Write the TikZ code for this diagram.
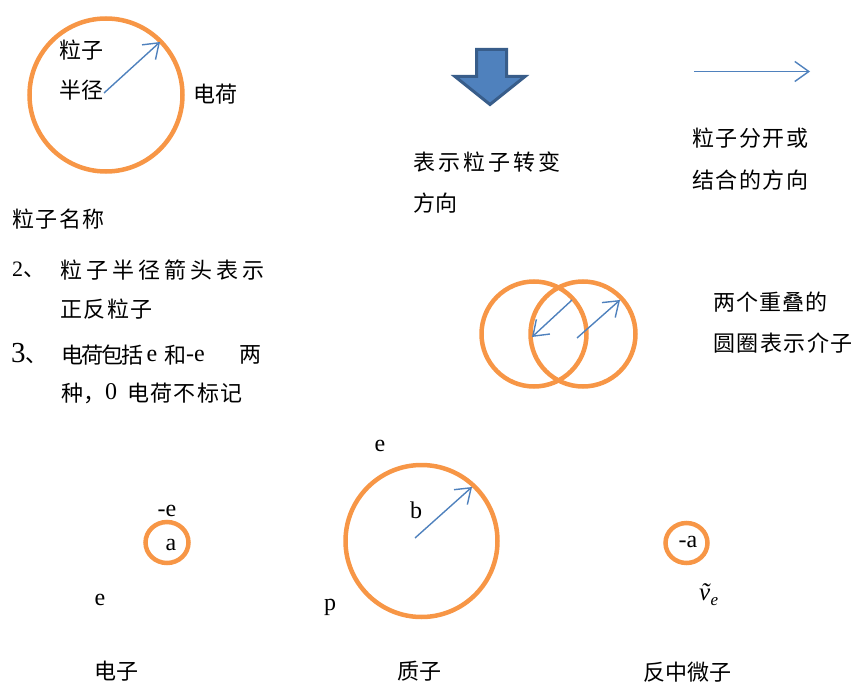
\documentclass[tikz,border=0pt]{standalone}
\usepackage{fontspec}
\setmainfont{Liberation Serif}
\newfontfamily\cjk{Noto Sans CJK SC}
\usetikzlibrary{arrows.meta}
\definecolor{porange}{HTML}{F79646}
\definecolor{pblue}{HTML}{4F81BD}
\definecolor{pdark}{HTML}{385D8A}
\newcommand\spc[2]{\def\gapamt{#1}\spcloop#2\relax}
\def\spcloop#1{\ifx#1\relax\else#1\expandafter\spcnext\fi}
\def\spcnext#1{\ifx#1\relax\else\hspace{\gapamt}#1\expandafter\spcnext\fi}
\begin{document}
\begin{tikzpicture}[x=1pt,y=-1pt,
  ring/.style={draw=porange,line width=4.5pt},
  radarrow/.style={draw=pblue,line width=1.4pt,-{Straight Barb[length=14pt,width=20pt,line width=1.4pt]}},
  zh/.style={anchor=west,inner sep=0pt,font=\cjk\fontsize{22}{26}\selectfont},
  lat/.style={inner sep=0pt,font=\fontsize{24}{28}\selectfont}]
\useasboundingbox (0,0) rectangle (857,682);

% legend circle
\coordinate (c1) at (106,95);
\coordinate (s1) at (104,93);
\coordinate (t1) at (160,42);
\draw[ring] (c1) circle[radius=76.5];
\draw[radarrow] (s1) -- (t1);
\node[zh] (l1) at (59,50) {粒子};
\node[zh] (l2) at (59,90) {半径};
\node[zh] (l3) at (193,94) {电荷};

\node[zh] (n1) at (12,219) {\spc{1.5pt}{粒子名称}};
\node[anchor=west,inner sep=0pt,font=\fontsize{22}{26}\selectfont] (n2a) at (12,270) {2\cjk 、};
\node[zh] (n2) at (60,270) {\spc{4pt}{粒子半径箭头表示}};
\node[zh] (n3) at (60,309) {\spc{1.5pt}{正反粒子}};
\node[anchor=west,inner sep=0pt,font=\fontsize{29}{32}\selectfont] (n4a) at (11,354) {3\cjk\fontsize{22}{26}\selectfont 、};
\node[zh] (n4b) at (61,355) {\spc{-2pt}{电荷包括}};
\node[lat] (n4c) at (152,356) {e};
\node[zh] (n4d) at (164,355) {和};
\node[lat,anchor=west] (n4e) at (186,356) {-e};
\node[zh] (n4f) at (239,355) {两};
\node[zh] (n5a) at (61,393) {种，};
\node[lat] (n5b) at (111,392) {0};
\node[zh] (n5c) at (127,393) {\spc{1.4pt}{电荷不标记}};

% block arrow
\draw[fill=pblue,draw=pdark,line width=3pt,line join=miter]
  (476.5,49.5) -- (506.5,49.5) -- (506.5,76.5) -- (525,76.5) -- (490,104.5)
  -- (455,76.5) -- (476.5,76.5) -- cycle;
\node[zh] (d1) at (413,162) {\spc{3pt}{表示粒子转变}};
\node[zh] (d2) at (413,203) {方向};

% right arrow
\coordinate (r1) at (694,71.5);
\coordinate (r2) at (810,71.5);
\draw[radarrow] (r1) -- (r2);
\node[zh] (e1) at (692,138) {\spc{1.5pt}{粒子分开或}};
\node[zh] (e2) at (692,180) {\spc{1.5pt}{结合的方向}};

% meson
\coordinate (m1) at (534,334);
\coordinate (m2) at (583,334);
\draw[ring] (m1) circle[radius=52.5];
\draw[ring] (m2) circle[radius=52.5];
\coordinate (ma) at (572,300);
\coordinate (mb) at (532,337);
\coordinate (mc) at (577,338);
\coordinate (md) at (620,300);
\draw[radarrow] (ma) -- (mb);
\draw[radarrow] (mc) -- (md);
\node[zh] (f1) at (713,302) {\spc{1pt}{两个重叠的}};
\node[zh] (f2) at (713,343) {\spc{1.5pt}{圆圈表示介子}};

% electron
\coordinate (el) at (167,542.5);
\draw[ring] (el) ellipse[x radius=21.5,y radius=20.5];
\node[lat] (ea) at (171,545) {a};
\node[lat] (eq) at (167,511) {-e};
\node[lat] (ee) at (100,600) {e};
\node[zh] (en) at (94,671) {电子};

% proton
\coordinate (pc) at (421.5,541);
\coordinate (ps) at (415,538);
\coordinate (pt) at (472,487);
\draw[ring] (pc) circle[radius=76];
\draw[radarrow] (ps) -- (pt);
\node[lat] (pb) at (416,510) {b};
\node[lat] (pe) at (380,446) {e};
\node[lat] (pp) at (330,607) {p};
\node[zh] (pn) at (397,671) {质子};

% antineutrino
\coordinate (an) at (686.5,543);
\draw[ring] (an) ellipse[x radius=21,y radius=20];
\node[lat] (aa) at (688,542) {-a};
\node[anchor=base west,inner sep=0pt,font=\fontsize{25}{28}\selectfont\itshape] (av) at (699,600) {ṽ};
\node[anchor=base west,inner sep=0pt,yshift=-5pt,font=\fontsize{17}{20}\selectfont\itshape] (avs) at (av.base east) {e};
\node[zh] (anm) at (643,672) {反中微子};
\end{tikzpicture}
\end{document}
